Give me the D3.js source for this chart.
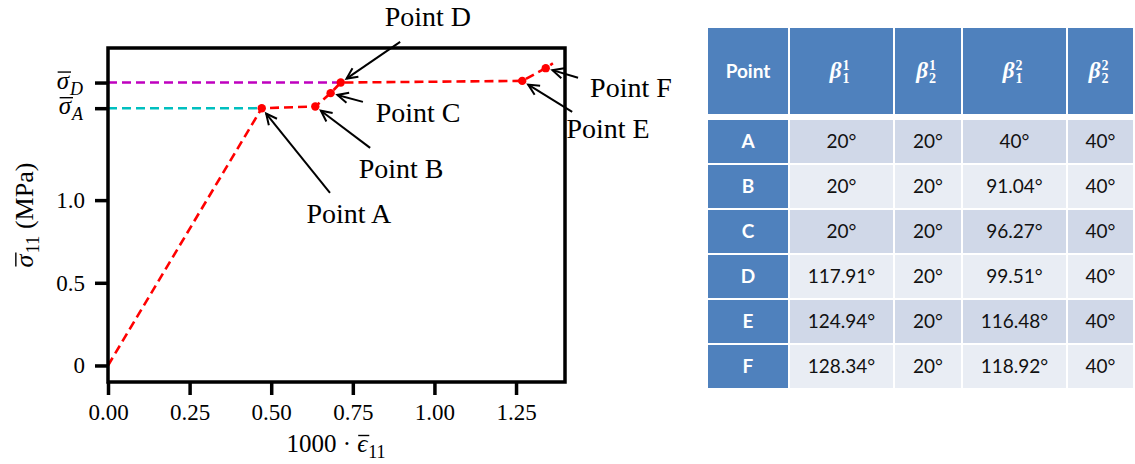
<!DOCTYPE html>
<html>
<head>
<meta charset="utf-8">
<script src="https://cdn.jsdelivr.net/npm/d3@7"></script>
<style>
  body { margin: 0; background: #fff; }
  svg { display: block; }
  text { white-space: pre; }
</style>
</head>
<body>
<svg id="chart" width="1135" height="464"></svg>
<script>
// curve data (1000*strain, stress in MPa)
var strain = [0, 0.471, 0.635, 0.682, 0.713, 1.269, 1.341, 1.363];
var stress = [0, 1.556, 1.566, 1.647, 1.711, 1.721, 1.798, 1.828];
var pointNames = ["A", "B", "C", "D", "E", "F"]; // indices 1..6 of the curve

var xTicks = [0, 0.25, 0.5, 0.75, 1.0, 1.25];
var yTicks = [0, 0.5, 1.0];

// annotation text anchors and arrow tails, data coordinates
var labelX = [0.738, 0.898, 0.950, 0.980, 1.532, 1.602];
var labelY = [0.863, 1.134, 1.474, 2.054, 1.377, 1.625];
var tailX = [0.680, 0.803, 0.781, 0.895, 1.422, 1.440];
var tailY = [1.044, 1.316, 1.594, 1.957, 1.534, 1.740];

// table
var headSup = [1, 1, 2, 2];
var headSub = [1, 2, 1, 2];
var rowPoints = ["A", "B", "C", "D", "E", "F"];
var beta11 = ["20°", "20°", "20°", "117.91°", "124.94°", "128.34°"];
var beta12 = ["20°", "20°", "20°", "20°", "20°", "20°"];
var beta21 = ["40°", "91.04°", "96.27°", "99.51°", "116.48°", "118.92°"];
var beta22 = ["40°", "40°", "40°", "40°", "40°", "40°"];

var svg = d3.select("#chart");
var serif = '"Liberation Serif", "Times New Roman", serif';

var x = d3.scaleLinear().domain([0, 1.4]).range([108, 565]);
var y = d3.scaleLinear().domain([-0.1, 1.92]).range([382, 48]);

// italic symbol with a bar over it and a subscript, drawn at (0,0) baseline
function barSymbol(parent, sym, sub, size, subItalic) {
  var g = parent.append("g");
  var s = g.append("text").attr("x", 0).attr("y", 0)
    .style("font-family", serif).style("font-style", "italic").style("font-size", size + "px")
    .text(sym);
  var w = s.node().getComputedTextLength();
  g.append("line")
    .attr("x1", 1).attr("x2", w + 2)
    .attr("y1", -size * 0.66).attr("y2", -size * 0.66)
    .attr("stroke", "#000").attr("stroke-width", 1.4);
  var t = g.append("text").attr("x", w + 1).attr("y", size * 0.24)
    .style("font-family", serif).style("font-style", subItalic ? "italic" : "normal")
    .style("font-size", (size * 0.72) + "px")
    .text(sub);
  return { g: g, width: w + 1 + t.node().getComputedTextLength() };
}

var plot = svg.append("g");

// reference levels
var iA = 1, iD = 4;
plot.append("line")
  .attr("x1", x(0)).attr("x2", x(strain[iA]))
  .attr("y1", y(stress[iA])).attr("y2", y(stress[iA]))
  .attr("stroke", "#00bfbf").attr("stroke-width", 2.5)
  .attr("stroke-dasharray", "9,5");
plot.append("line")
  .attr("x1", x(0)).attr("x2", x(strain[iD]))
  .attr("y1", y(stress[iD])).attr("y2", y(stress[iD]))
  .attr("stroke", "#bf00bf").attr("stroke-width", 2.5)
  .attr("stroke-dasharray", "9,5");

var line = d3.line()
  .x(function (d, i) { return x(strain[i]); })
  .y(function (d, i) { return y(stress[i]); });

plot.append("path")
  .datum(strain)
  .attr("d", line)
  .attr("fill", "none")
  .attr("stroke", "#ff0000")
  .attr("stroke-width", 2.6)
  .attr("stroke-dasharray", "9,5");

plot.selectAll("circle.pt")
  .data(pointNames)
  .enter().append("circle")
  .attr("class", "pt")
  .attr("cx", function (d, i) { return x(strain[i + 1]); })
  .attr("cy", function (d, i) { return y(stress[i + 1]); })
  .attr("r", 4.2)
  .attr("fill", "#ff0000");

// axes
var xAxis = d3.axisBottom(x).tickValues(xTicks).tickSize(13).tickPadding(8)
  .tickFormat(d3.format(".2f"));
var gx = svg.append("g").attr("transform", "translate(0,382)").call(xAxis);

var yAxis = d3.axisLeft(y).tickValues(yTicks.concat([stress[iA], stress[iD]])).tickSize(13).tickPadding(10)
  .tickFormat(function (d) {
    if (d === 0) return "0";
    if (yTicks.indexOf(d) >= 0) return d3.format(".1f")(d);
    return "";
  });
var gy = svg.append("g").attr("transform", "translate(108,0)").call(yAxis);

[gx, gy].forEach(function (g) {
  g.select(".domain").remove();
  g.selectAll(".tick line").attr("stroke", "#000").attr("stroke-width", 3.5);
  g.selectAll(".tick text").attr("fill", "#000")
    .style("font-family", serif).style("font-size", "23px");
});
gx.selectAll(".tick text").attr("dy", "0.75em");

// sigma_A / sigma_D tick labels
[[stress[iA], "A"], [stress[iD], "D"]].forEach(function (s) {
  var holder = svg.append("g");
  var b = barSymbol(holder, "σ", s[1], 25, true);
  holder.attr("transform", "translate(" + (83 - b.width) + "," + (y(s[0]) + 6) + ")");
});

// frame
svg.append("rect")
  .attr("x", x(0)).attr("y", y(1.92))
  .attr("width", x(1.4) - x(0)).attr("height", y(-0.1) - y(1.92))
  .attr("fill", "none").attr("stroke", "#000").attr("stroke-width", 3.5);

// axis labels
var xl = svg.append("g");
var xlText = xl.append("text").attr("x", 0).attr("y", 0)
  .style("font-family", serif).style("font-size", "25px").text("1000\u00a0·\u00a0");
var xw = xlText.node().getComputedTextLength();
var eps = barSymbol(xl, "ϵ", "11", 25, false);
eps.g.attr("transform", "translate(" + xw + ",0)");
xl.attr("transform", "translate(" + (336 - (xw + eps.width) / 2) + ",452)");

var yl = svg.append("g");
var sig = barSymbol(yl, "σ", "11", 26, false);
var ylText = yl.append("text").attr("x", sig.width).attr("y", 0)
  .style("font-family", serif).style("font-size", "26px").text("\u00a0(MPa)");
var yw = sig.width + ylText.node().getComputedTextLength();
yl.attr("transform", "translate(33,215) rotate(-90) translate(" + (-yw / 2) + ",0)");

// annotations
var ann = svg.append("g");
pointNames.forEach(function (name, i) {
  var hx = x(strain[i + 1]), hy = y(stress[i + 1]);
  var tx = x(tailX[i]), ty = y(tailY[i]);
  var ang = Math.atan2(hy - ty, hx - tx);
  var ex = hx - 7 * Math.cos(ang), ey = hy - 7 * Math.sin(ang);
  var wing = 12, spread = 0.45;
  ann.append("line")
    .attr("x1", tx).attr("y1", ty).attr("x2", ex).attr("y2", ey)
    .attr("stroke", "#000").attr("stroke-width", 2);
  ann.append("path")
    .attr("d", "M" + (ex - wing * Math.cos(ang - spread)) + "," + (ey - wing * Math.sin(ang - spread)) +
      "L" + ex + "," + ey +
      "L" + (ex - wing * Math.cos(ang + spread)) + "," + (ey - wing * Math.sin(ang + spread)))
    .attr("fill", "none").attr("stroke", "#000").attr("stroke-width", 2);
  ann.append("text")
    .attr("x", x(labelX[i])).attr("y", y(labelY[i]))
    .attr("text-anchor", "middle")
    .style("font-family", serif).style("font-size", "28px")
    .text("Point " + name);
});

// table
var colX = [708, 790, 895, 963, 1068];
var colW = [80, 103, 66, 103, 65];
var headY = 28, headH = 86, bodyY = 120, rowH = 43, rowGap = 2;
var blue = "#4f81bd";
var band = ["#d0d8e8", "#e9edf4"];
var cols = [rowPoints, beta11, beta12, beta21, beta22];
var sans = 'Lato, "Open Sans", sans-serif';

var tbl = svg.append("g");
colX.forEach(function (cx0, c) {
  tbl.append("rect").attr("x", cx0).attr("y", headY)
    .attr("width", colW[c]).attr("height", headH).attr("fill", blue);
  var cx = cx0 + colW[c] / 2, cy = headY + headH / 2;
  if (c === 0) {
    tbl.append("text").attr("x", cx).attr("y", cy + 7).attr("text-anchor", "middle")
      .attr("fill", "#fff").style("font-family", sans).style("font-weight", "bold")
      .style("font-size", "19px").text("Point");
  } else {
    tbl.append("text").attr("x", cx).attr("y", cy + 7).attr("text-anchor", "end")
      .attr("fill", "#fff").style("font-family", serif).style("font-weight", "bold")
      .style("font-style", "italic").style("font-size", "23px").text("β");
    tbl.append("text").attr("x", cx + 1).attr("y", cy - 1).attr("fill", "#fff")
      .style("font-family", serif).style("font-weight", "bold").style("font-size", "14px")
      .text(headSup[c - 1]);
    tbl.append("text").attr("x", cx + 1).attr("y", cy + 12).attr("fill", "#fff")
      .style("font-family", serif).style("font-weight", "bold").style("font-size", "14px")
      .text(headSub[c - 1]);
  }
});

rowPoints.forEach(function (p, r) {
  var ry = bodyY + r * (rowH + rowGap);
  cols.forEach(function (col, c) {
    tbl.append("rect").attr("x", colX[c]).attr("y", ry)
      .attr("width", colW[c]).attr("height", rowH)
      .attr("fill", c === 0 ? blue : band[r % 2]);
    tbl.append("text").attr("x", colX[c] + colW[c] / 2).attr("y", ry + rowH / 2 + 6)
      .attr("text-anchor", "middle")
      .attr("fill", c === 0 ? "#fff" : "#111")
      .style("font-family", sans).style("font-weight", c === 0 ? "bold" : "normal")
      .style("font-size", "19px").text(col[r]);
  });
});
</script>
</body>
</html>
